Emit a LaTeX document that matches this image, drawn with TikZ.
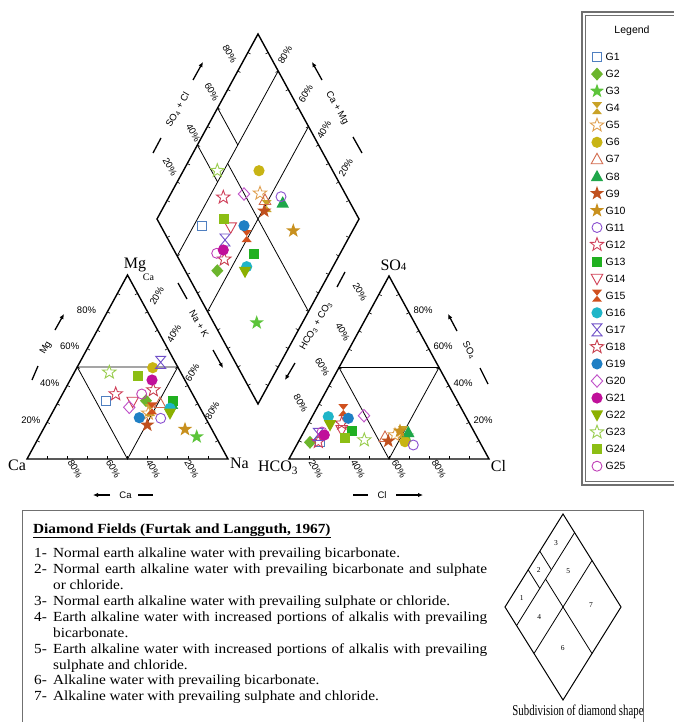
\documentclass[tikz,border=0pt]{standalone}
\usepackage{fontspec}
\setmainfont{Liberation Serif}
\setsansfont{Liberation Sans}
\newfontfamily\boxfont[FakeStretch=1.1]{Liberation Serif}
\newfontfamily\capfont[FakeStretch=0.72]{Liberation Serif}
\usetikzlibrary{calc,arrows.meta}
\definecolor{g1}{HTML}{4F7FC0}
\definecolor{g2}{HTML}{6CB52D}
\definecolor{g3}{HTML}{5CC43A}
\definecolor{g4}{HTML}{C9A227}
\definecolor{g5}{HTML}{E0A050}
\definecolor{g6}{HTML}{C8B414}
\definecolor{g7}{HTML}{D2694B}
\definecolor{g8}{HTML}{1FA64A}
\definecolor{g9}{HTML}{C0501E}
\definecolor{g10}{HTML}{C8901E}
\definecolor{g11}{HTML}{8A4FD0}
\definecolor{g12}{HTML}{D0405A}
\definecolor{g13}{HTML}{20B020}
\definecolor{g14}{HTML}{D04055}
\definecolor{g15}{HTML}{D0501E}
\definecolor{g16}{HTML}{1FB5C8}
\definecolor{g17}{HTML}{7050C8}
\definecolor{g18}{HTML}{C8404F}
\definecolor{g19}{HTML}{1F7FC4}
\definecolor{g20}{HTML}{C050C8}
\definecolor{g21}{HTML}{C0109A}
\definecolor{g22}{HTML}{8CB000}
\definecolor{g23}{HTML}{9ACD50}
\definecolor{g24}{HTML}{8CBE14}
\definecolor{g25}{HTML}{C040B8}
\definecolor{frame}{HTML}{707070}
\newcommand\mk[3]{\pic at (#2,#3) {G#1};}
\newcommand\lgd[2]{\pic[scale=0.68] at (597,#2) {G#1};\node[legtxt] (lg#1) at (605.5,#2) {G#1};}
\newcommand\subdiv[1]{%
  \coordinate (#1m1) at ($(#1B)!0.5!(#1R)$);
  \coordinate (#1m2) at ($(#1L)!0.5!(#1T)$);
  \coordinate (#1a1) at ($(#1B)!0.4!(#1R)$);
  \coordinate (#1a2) at ($(#1L)!0.4!(#1T)$);
  \coordinate (#1b1) at ($(#1B)!0.6!(#1R)$);
  \coordinate (#1b2) at ($(#1L)!0.6!(#1T)$);
  \draw[inner] ($(#1B)!0.8!(#1L)$) -- ($(#1R)!0.8!(#1T)$);
  \draw[inner] ($(#1B)!0.5!(#1L)$) -- ($(#1R)!0.5!(#1T)$);
  \draw[inner] (#1m1) -- ($(#1m1)!0.8!(#1m2)$);
  \draw[inner] ($(#1a1)!0.8!(#1a2)$) -- (#1a2);
  \draw[inner] ($(#1b1)!0.8!(#1b2)$) -- (#1b2);
}
\tikzset{
 mko/.style={line width=0.9pt, line join=miter},
 sqo/.pic={\draw[#1,mko] (-4.6,-4.6) rectangle (4.6,4.6);},
 sqf/.pic={\fill[#1] (-5,-5) rectangle (5,5);},
 dmf/.pic={\fill[#1] (0,-6.5) -- (6,0) -- (0,6.5) -- (-6,0) -- cycle;},
 dmo/.pic={\draw[#1,mko] (0,-6.2) -- (5.7,0) -- (0,6.2) -- (-5.7,0) -- cycle;},
 stf/.pic={\fill[#1] (-90:7.5) -- (-54:3) -- (-18:7.5) -- (18:3) -- (54:7.5) -- (90:3) -- (126:7.5) -- (162:3) -- (198:7.5) -- (234:3) -- cycle;},
 sto/.pic={\draw[#1,mko] (-90:7) -- (-54:2.9) -- (-18:7) -- (18:2.9) -- (54:7) -- (90:2.9) -- (126:7) -- (162:2.9) -- (198:7) -- (234:2.9) -- cycle;},
 cif/.pic={\fill[#1] (0,0) circle (5.6);},
 cio/.pic={\draw[#1,mko] (0,0) circle (5);},
 tuo/.pic={\draw[#1,mko] (0,-6) -- (5.8,4.5) -- (-5.8,4.5) -- cycle;},
 tuf/.pic={\fill[#1] (0,-6.5) -- (6.2,4.8) -- (-6.2,4.8) -- cycle;},
 tdo/.pic={\draw[#1,mko] (0,6) -- (5.8,-4.5) -- (-5.8,-4.5) -- cycle;},
 tdf/.pic={\fill[#1] (0,6.5) -- (6.2,-4.8) -- (-6.2,-4.8) -- cycle;},
 hgf/.pic={\fill[#1] (-5,-6) -- (5,-6) -- (-5,6) -- (5,6) -- cycle;},
 hgo/.pic={\draw[#1,mko] (-5,-6) -- (5,-6) -- (-5,6) -- (5,6) -- cycle;},
 G1/.pic={\pic{sqo=g1};}, G2/.pic={\pic{dmf=g2};}, G3/.pic={\pic{stf=g3};},
 G4/.pic={\pic{hgf=g4};}, G5/.pic={\pic{sto=g5};}, G6/.pic={\pic{cif=g6};},
 G7/.pic={\pic{tuo=g7};}, G8/.pic={\pic{tuf=g8};}, G9/.pic={\pic{stf=g9};},
 G10/.pic={\pic{stf=g10};}, G11/.pic={\pic{cio=g11};}, G12/.pic={\pic{sto=g12};},
 G13/.pic={\pic{sqf=g13};}, G14/.pic={\pic{tdo=g14};}, G15/.pic={\pic{hgf=g15};},
 G16/.pic={\pic{cif=g16};}, G17/.pic={\pic{hgo=g17};}, G18/.pic={\pic{sto=g18};},
 G19/.pic={\pic{cif=g19};}, G20/.pic={\pic{dmo=g20};}, G21/.pic={\pic{cif=g21};},
 G22/.pic={\pic{tdf=g22};}, G23/.pic={\pic{sto=g23};}, G24/.pic={\pic{sqf=g24};},
 G25/.pic={\pic{cio=g25};},
 edge/.style={line width=1.4pt, line join=miter},
 inner/.style={line width=0.8pt},
 tick/.style={line width=0.6pt},
 pct/.style={font=\sffamily\fontsize{9.5}{10}\selectfont, inner sep=0pt},
 ttl/.style={font=\sffamily\fontsize{9.5}{10}\selectfont, inner sep=0pt},
 corner/.style={font=\fontsize{16}{16}\selectfont, inner sep=0pt},
 axar/.style={line width=1.3pt, -{Latex[length=5pt,width=4.5pt]}},
 dashln/.style={line width=1.3pt},
 legtxt/.style={anchor=west, font=\sffamily\fontsize{10.5}{11}\selectfont, inner sep=0pt},
 item/.style={anchor=base west, inner sep=0pt, font=\boxfont\fontsize{13.9}{16}\selectfont},
 snum/.style={font=\fontsize{7.5}{8}\selectfont, inner sep=0pt},
}
\begin{document}
\begin{tikzpicture}[x=1pt,y=-1pt]
\useasboundingbox (0,0) rectangle (673,722);
\fill[white] (0,0) rectangle (673,722);
% ---------- coordinates
\coordinate (dT) at (258,34); \coordinate (dL) at (157,219);
\coordinate (dR) at (359,219); \coordinate (dB) at (258,404);
\coordinate (lCa) at (27,459); \coordinate (lNa) at (228,459); \coordinate (lMg) at (127.5,275);
\coordinate (rHC) at (289,459); \coordinate (rCl) at (489,459); \coordinate (rSO) at (389,276);
\coordinate (sT) at (563,514); \coordinate (sL) at (505,607);
\coordinate (sR) at (621,607); \coordinate (sB) at (563,700);
% ---------- diamond
\draw[edge] (dB) -- (dR) -- (dT) -- (dL) -- cycle;
\subdiv{d}
\foreach \A/\B in {dB/dR,dR/dT,dT/dL,dL/dB}{
  \foreach \f in {0.1,0.2,0.3,0.4,0.5,0.6,0.7,0.8,0.9}{
    \coordinate (tp) at ($(\A)!\f!(\B)$);
    \draw[tick] (tp) -- ($(tp)!3pt!90:(\B)$);
  }}
% ---------- triangles
\draw[edge] (lCa) -- (lNa) -- (lMg) -- cycle;
\draw[inner] ($(lCa)!0.5!(lMg)$) -- ($(lNa)!0.5!(lMg)$) -- ($(lCa)!0.5!(lNa)$) -- cycle;
\draw[edge] (rHC) -- (rCl) -- (rSO) -- cycle;
\draw[inner] ($(rHC)!0.5!(rSO)$) -- ($(rCl)!0.5!(rSO)$) -- ($(rHC)!0.5!(rCl)$) -- cycle;
\foreach \A/\B in {lCa/lNa,lNa/lMg,lMg/lCa,rHC/rCl,rCl/rSO,rSO/rHC}{
  \foreach \f in {0.1,0.2,0.3,0.4,0.5,0.6,0.7,0.8,0.9}{
    \coordinate (tp) at ($(\A)!\f!(\B)$);
    \draw[tick] (tp) -- ($(tp)!3pt!90:(\B)$);
  }}
% ---------- diamond percent labels
\node[pct,rotate=-60] (dl80) at (229.7,54) {80\%};
\node[pct,rotate=-60] (dl60) at (211.7,92) {60\%};
\node[pct,rotate=-60] (dl40) at (193.3,133) {40\%};
\node[pct,rotate=-60] (dl20) at (170,167) {20\%};
\node[pct,rotate=60] (dr80) at (285,55) {80\%};
\node[pct,rotate=60] (dr60) at (305.7,93.3) {60\%};
\node[pct,rotate=60] (dr40) at (324,130) {40\%};
\node[pct,rotate=60] (dr20) at (345.7,167.3) {20\%};
% diamond axis titles
\draw[dashln] (153,153) -- (161,138);
\node[ttl,rotate=60] (tSO4Cl) at (178,110) {SO\textsubscript{4} + Cl};
\draw[axar] (193,80) -- (203,62);
\draw[axar] (322,80) -- (312,62);
\node[ttl,rotate=-60] (tCaMg) at (337,108) {Ca + Mg};
\draw[dashln] (353,137) -- (362,153);
\draw[dashln] (178,283) -- (187,299);
\node[ttl,rotate=-60] (tNaK) at (199,324) {Na + K};
\draw[axar] (213,350) -- (223,368);
\draw[dashln] (345,272) -- (337,287);
\node[ttl,rotate=60] (tHCO) at (316,326) {HCO\textsubscript{3} + CO\textsubscript{3}};
\draw[axar] (295,363) -- (285,380);
% ---------- left triangle labels
\node[corner] (cMg) at (135,265) {Mg};
\node[font=\fontsize{10}{10}\selectfont, inner sep=0pt] (cMgCa) at (148.5,277) {Ca};
\node[corner] (cCa) at (17,465) {Ca};
\node[corner] (cNa) at (239.5,463.5) {Na};
\node[pct] (ll80) at (86.5,310.7) {80\%};
\node[pct] (ll60) at (69.7,346.7) {60\%};
\node[pct] (ll40) at (49.7,383.3) {40\%};
\node[pct] (ll20) at (30.8,420.7) {20\%};
\node[pct,rotate=60] (lr20) at (156.7,296) {20\%};
\node[pct,rotate=60] (lr40) at (174,333.3) {40\%};
\node[pct,rotate=60] (lr60) at (192.3,372.7) {60\%};
\node[pct,rotate=60] (lr80) at (212.3,410.7) {80\%};
\node[pct,rotate=-60] (lb80) at (75,469) {80\%};
\node[pct,rotate=-60] (lb60) at (113.3,469) {60\%};
\node[pct,rotate=-60] (lb40) at (153.3,469) {40\%};
\node[pct,rotate=-60] (lb20) at (191.7,469) {20\%};
\draw[dashln] (32,380) -- (38,366);
\node[ttl,rotate=60] (tMg) at (46,348) {Mg};
\draw[axar] (55,330) -- (64,314);
\draw[axar] (110,495) -- (93,495);
\node[ttl] (tCa) at (125.5,495) {Ca};
\draw[dashln] (138,495) -- (153,495);
% ---------- right triangle labels
\node[corner] (cSO) at (393.5,265) {SO{\fontsize{11}{11}\selectfont 4}};
\node[corner] (cHC) at (278,468) {HCO\textsubscript{3}};
\node[corner] (cCl) at (498.5,466.5) {Cl};
\node[pct,rotate=-60] (rl20) at (360,291.7) {20\%};
\node[pct,rotate=-60] (rl40) at (342.7,331.7) {40\%};
\node[pct,rotate=-60] (rl60) at (322.3,366.7) {60\%};
\node[pct,rotate=-60] (rl80) at (300.7,403.3) {80\%};
\node[pct,anchor=west] (rr80) at (413.3,310) {80\%};
\node[pct,anchor=west] (rr60) at (433.3,346.7) {60\%};
\node[pct,anchor=west] (rr40) at (453.3,383.3) {40\%};
\node[pct,anchor=west] (rr20) at (473.3,420.7) {20\%};
\node[pct,rotate=-60] (rb20) at (316,469) {20\%};
\node[pct,rotate=-60] (rb40) at (358,469) {40\%};
\node[pct,rotate=-60] (rb60) at (399,469) {60\%};
\node[pct,rotate=-60] (rb80) at (439,469) {80\%};
\draw[axar] (457,331) -- (448,314);
\node[ttl,rotate=-60] (tSO4) at (469,350) {SO\textsubscript{4}};
\draw[dashln] (480,368) -- (488,384);
\draw[dashln] (353,495) -- (368,495);
\node[ttl] (tCl) at (382,495) {Cl};
\draw[axar] (396,495) -- (423,495);
% ---------- data: diamond
\mk{1}{201.7}{226} \mk{2}{217.3}{270.7} \mk{3}{256.7}{322.7} \mk{4}{266.7}{206}
\mk{5}{260}{193.3} \mk{6}{259}{170.7} \mk{7}{265}{200} \mk{8}{282.7}{202.7}
\mk{9}{264.3}{211} \mk{10}{293.3}{230.7} \mk{11}{281}{196.7} \mk{12}{223.3}{197.3}
\mk{13}{254}{254} \mk{14}{230.7}{227.3} \mk{15}{246.7}{236} \mk{16}{246.7}{266.7}
\mk{17}{225}{240} \mk{18}{224.3}{259.3} \mk{19}{244}{225.7} \mk{20}{244}{194}
\mk{25}{216.7}{253.3} \mk{21}{223.3}{250} \mk{22}{245}{271.7} \mk{23}{217.3}{170.7}
\mk{24}{224.3}{219}
% ---------- data: left triangle
\mk{1}{106}{401} \mk{2}{146}{400.7} \mk{3}{196.7}{436.7} \mk{4}{150}{410}
\mk{5}{148.3}{413.3} \mk{6}{152.7}{367.7} \mk{7}{160}{403} \mk{8}{172}{404}
\mk{9}{147.3}{425} \mk{10}{185}{429.3} \mk{11}{160.7}{418.3} \mk{12}{115.7}{394}
\mk{13}{173.3}{401} \mk{14}{132.7}{401.7} \mk{15}{152}{408.3} \mk{16}{170}{408.3}
\mk{17}{160.7}{362.3} \mk{18}{153.3}{390} \mk{19}{139.3}{417.7} \mk{20}{129.3}{407.3}
\mk{21}{152}{380} \mk{22}{170}{413.3} \mk{23}{109.3}{372.3} \mk{24}{138.3}{375.7}
\mk{25}{141.7}{394}
% ---------- data: right triangle
\mk{1}{320}{442} \mk{2}{310}{442.3} \mk{3}{407}{436} \mk{4}{403}{432}
\mk{5}{395}{435} \mk{6}{405}{441.7} \mk{7}{385}{437} \mk{8}{408.3}{432.3}
\mk{9}{388.3}{441} \mk{10}{400}{431} \mk{11}{413.3}{445} \mk{12}{318.3}{441.7}
\mk{13}{351.7}{431} \mk{14}{341.7}{430} \mk{15}{343.3}{410} \mk{16}{328.3}{416.7}
\mk{17}{318.3}{434.3} \mk{18}{341.7}{423.3} \mk{19}{348.3}{418.3} \mk{20}{364}{415.7}
\mk{25}{322}{432} \mk{21}{324.3}{435} \mk{22}{330}{425} \mk{23}{364.3}{440}
\mk{24}{345}{438.3}
% ---------- legend
\draw[frame, line width=1.6pt] (582,12) rectangle (690,485);
\draw[frame, line width=0.6pt] (585.5,15.5) rectangle (690,481.5);
\node[font=\sffamily\fontsize{10.5}{11}\selectfont, inner sep=0pt] (legtitle) at (632,31) {Legend};
\lgd{1}{57} \lgd{2}{74.1} \lgd{3}{91.1} \lgd{4}{108.2} \lgd{5}{125.2}
\lgd{6}{142.3} \lgd{7}{159.3} \lgd{8}{176.4} \lgd{9}{193.4} \lgd{10}{210.5}
\lgd{11}{227.5} \lgd{12}{244.6} \lgd{13}{261.6} \lgd{14}{278.7} \lgd{15}{295.7}
\lgd{16}{312.8} \lgd{17}{329.8} \lgd{18}{346.9} \lgd{19}{363.9} \lgd{20}{381}
\lgd{21}{398} \lgd{22}{415.1} \lgd{23}{432.1} \lgd{24}{449.2} \lgd{25}{466.2}
% ---------- bottom text box
\draw[frame, line width=0.8pt] (22,510) rectangle (643,730);
\node[item, font=\boxfont\bfseries\fontsize{13.9}{16}\selectfont] (title) at (33,533) {\underline{Diamond Fields (Furtak and Langguth, 1967)}};
\node[item] (n1) at (34,557) {1-};
\node[item] (t1) at (53,557) {Normal earth alkaline water with prevailing bicarbonate.};
\node[item] (n2) at (34,573) {2-};
\node[item] (t2) at (53,573) {\makebox[434pt][s]{Normal earth alkaline water with prevailing bicarbonate and sulphate}};
\node[item] (t2b) at (53,589) {or chloride.};
\node[item] (n3) at (34,605) {3-};
\node[item] (t3) at (53,605) {Normal earth alkaline water with prevailing sulphate or chloride.};
\node[item] (n4) at (34,621) {4-};
\node[item] (t4) at (53,621) {\makebox[434pt][s]{Earth alkaline water with increased portions of alkalis with prevailing}};
\node[item] (t4b) at (53,637) {bicarbonate.};
\node[item] (n5) at (34,653) {5-};
\node[item] (t5) at (53,653) {\makebox[434pt][s]{Earth alkaline water with increased portions of alkalis with prevailing}};
\node[item] (t5b) at (53,669) {sulphate and chloride.};
\node[item] (n6) at (34,684) {6-};
\node[item] (t6) at (53,684) {Alkaline water with prevailing bicarbonate.};
\node[item] (n7) at (34,700) {7-};
\node[item] (t7) at (53,700) {Alkaline water with prevailing sulphate and chloride.};
% ---------- small diamond
\draw[edge, line width=1pt] (sB) -- (sR) -- (sT) -- (sL) -- cycle;
\subdiv{s}
\node[snum] (s1) at (521.7,598.3) {1};
\node[snum] (s2) at (538.7,570) {2};
\node[snum] (s3) at (556,542.7) {3};
\node[snum] (s4) at (539.3,616.7) {4};
\node[snum] (s5) at (568.3,571) {5};
\node[snum] (s6) at (562.7,648.3) {6};
\node[snum] (s7) at (591,605) {7};
\node[font=\capfont\fontsize{15}{15}\selectfont, inner sep=0pt] (subcap) at (578,712) {Subdivision of diamond shape};
\end{tikzpicture}
\end{document}
